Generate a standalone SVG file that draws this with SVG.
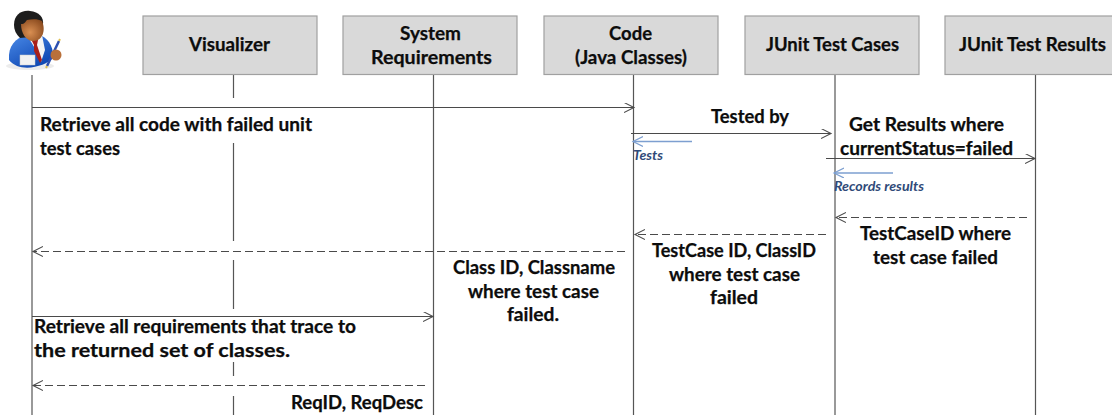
<svg xmlns="http://www.w3.org/2000/svg" width="1112" height="415" viewBox="0 0 1112 415">
<style>
text{font-family:"Lato","Open Sans","Liberation Sans",sans-serif;font-weight:700;font-size:18px;fill:#0c0c0c;stroke:#0c0c0c;stroke-width:0.25px;text-anchor:middle}
.l{text-anchor:start}
.box{fill:#d9d9d9;stroke:#a0a0a0;stroke-width:1.2}
.life{stroke:#555;stroke-width:1.2;fill:none}
.msg{stroke:#4a4a4a;stroke-width:1.2;fill:none}
.dash{stroke:#4a4a4a;stroke-width:1.2;fill:none;stroke-dasharray:8 4}
.note{stroke:#7d9fd0;stroke-width:1.4;fill:none}
.it{font-style:italic;font-size:12.500px;fill:#2f4a78;stroke:none;text-anchor:start}
</style>
<defs>
<marker id="open" markerWidth="12" markerHeight="12" refX="10" refY="5" orient="auto-start-reverse" markerUnits="userSpaceOnUse"><path d="M0 0L10 5L0 10" fill="none" stroke="#4a4a4a" stroke-width="1.1"/></marker>
<marker id="blue" markerWidth="12" markerHeight="12" refX="10" refY="5" orient="auto-start-reverse" markerUnits="userSpaceOnUse"><path d="M0 0L10 5L0 10" fill="none" stroke="#7d9fd0" stroke-width="1.2"/></marker>
<radialGradient id="skin" cx="0.4" cy="0.6" r="0.7"><stop offset="0" stop-color="#d98f52"/><stop offset="1" stop-color="#8a4a1e"/></radialGradient>
<linearGradient id="suit" x1="0" y1="0" x2="0.7" y2="1"><stop offset="0" stop-color="#4a8ae8"/><stop offset="1" stop-color="#0d45b0"/></linearGradient>
</defs>
<g id="actor">
<ellipse cx="30" cy="66" rx="24" ry="4" fill="#ececec"/>
<path d="M9 60C8 46 15 38 27 35L42 36C50 40 54 50 53 58C46 66 20 74 9 60Z" fill="url(#suit)"/>
<path d="M28 37L42 35L45 50L41 62L36 50Z" fill="#f4f4f4"/>
<path d="M31 39L38 40L37 45L42 60L40 63L34 51L34 45Z" fill="#a81f1a"/>
<path d="M14 25C14 15 21 10 30 11C39 12 44 17 43 25L40 36L20 38C16 34 14 30 14 25Z" fill="#1d1d1d"/>
<path d="M21 24C25 24 25 22 27 20C33 19 38 19 42 21C46 30 43 41 33 41C26 41 21 33 21 24Z" fill="url(#skin)"/>
<rect x="20" y="55" width="15" height="10" fill="#f2f2f2" stroke="#ccc" stroke-width="0.5"/>
<path d="M59 41L47 66" stroke="#2b4fb0" stroke-width="2.500" fill="none"/>
<path d="M59 41L60 39M47 66L46 68" stroke="#e0c050" stroke-width="2" fill="none"/>
<circle cx="56" cy="55" r="5.500" fill="#b9703a"/>
</g>
<g id="connectors">
<path class="life" d="M32 75V415"/>
<path class="life" d="M233.500 75V98M233.500 143V241M233.500 260V309M233.500 362V376M233.500 396V415"/>
<path class="life" d="M433.500 75V415"/>
<path class="life" d="M633.500 75V415" stroke-width="1.500"/>
<path class="life" d="M835 75V415"/>
<path class="life" d="M1035.500 75V415"/>
<path class="msg" marker-end="url(#open)" d="M32 107.500H634"/>
<path class="msg" marker-end="url(#open)" d="M631 133.500H831"/>
<path class="msg" marker-end="url(#open)" d="M826 158.500H1035"/>
<path class="note" marker-end="url(#blue)" d="M692 141.500H633"/>
<path class="note" marker-end="url(#blue)" d="M893 173H834"/>
<path class="dash" marker-end="url(#open)" d="M1027 217.500H836"/>
<path class="dash" marker-end="url(#open)" d="M826 234.500H635"/>
<path class="dash" marker-end="url(#open)" d="M625 251.500H33"/>
<path class="msg" marker-end="url(#open)" d="M32 316.500H433"/>
<path class="dash" marker-end="url(#open)" d="M425 385.500H33"/>
</g>
<g id="visualizer"><rect class="box" x="143" y="16" width="174" height="58.500"/><text x="229.500" y="51" textLength="81" lengthAdjust="spacingAndGlyphs">Visualizer</text></g>
<g id="system-requirements"><rect class="box" x="343" y="16" width="174" height="58.500"/><text x="430.500" y="40" textLength="61" lengthAdjust="spacingAndGlyphs">System</text><text x="431.500" y="64" textLength="121" lengthAdjust="spacingAndGlyphs">Requirements</text></g>
<g id="code"><rect class="box" x="544" y="16" width="174" height="58.500"/><text x="630.500" y="40" textLength="43" lengthAdjust="spacingAndGlyphs">Code</text><text x="631" y="64" textLength="112" lengthAdjust="spacingAndGlyphs">(Java Classes)</text></g>
<g id="junit-test-cases"><rect class="box" x="745" y="16" width="174" height="58.500"/><text x="832.500" y="51" textLength="133" lengthAdjust="spacingAndGlyphs">JUnit Test Cases</text></g>
<g id="junit-test-results"><rect class="box" x="945" y="16" width="175" height="58.500"/><text x="1032.500" y="51" textLength="147" lengthAdjust="spacingAndGlyphs">JUnit Test Results</text></g>
<g id="labels">
<text class="l" x="40" y="131" textLength="272" lengthAdjust="spacingAndGlyphs">Retrieve all code with failed unit</text>
<text class="l" x="40" y="155" textLength="80" lengthAdjust="spacingAndGlyphs">test cases</text>
<text x="750" y="123" textLength="78" lengthAdjust="spacingAndGlyphs">Tested by</text>
<text x="926.500" y="131" textLength="155" lengthAdjust="spacingAndGlyphs">Get Results where</text>
<text x="926.500" y="155" textLength="173" lengthAdjust="spacingAndGlyphs">currentStatus=failed</text>
<text class="it" x="633" y="160" textLength="30" lengthAdjust="spacingAndGlyphs">Tests</text>
<text class="it" x="834" y="191" textLength="90" lengthAdjust="spacingAndGlyphs">Records results</text>
<text x="935.500" y="240" textLength="151" lengthAdjust="spacingAndGlyphs">TestCaseID where</text>
<text x="935.500" y="264" textLength="125" lengthAdjust="spacingAndGlyphs">test case failed</text>
<text x="734" y="257" textLength="164" lengthAdjust="spacingAndGlyphs">TestCase ID, ClassID</text>
<text x="734.500" y="281" textLength="131" lengthAdjust="spacingAndGlyphs">where test case</text>
<text x="734" y="304" textLength="48" lengthAdjust="spacingAndGlyphs">failed</text>
<text x="534" y="274" textLength="162" lengthAdjust="spacingAndGlyphs">Class ID, Classname</text>
<text x="533.500" y="298" textLength="131" lengthAdjust="spacingAndGlyphs">where test case</text>
<text x="533" y="321" textLength="52" lengthAdjust="spacingAndGlyphs">failed.</text>
<text class="l" x="34" y="333" textLength="322" lengthAdjust="spacingAndGlyphs">Retrieve all requirements that trace to</text>
<text class="l" x="34" y="357" textLength="256" lengthAdjust="spacingAndGlyphs">the returned set of classes.</text>
<text class="l" x="291" y="409" textLength="132" lengthAdjust="spacingAndGlyphs">ReqID, ReqDesc</text>
</g>
</svg>
